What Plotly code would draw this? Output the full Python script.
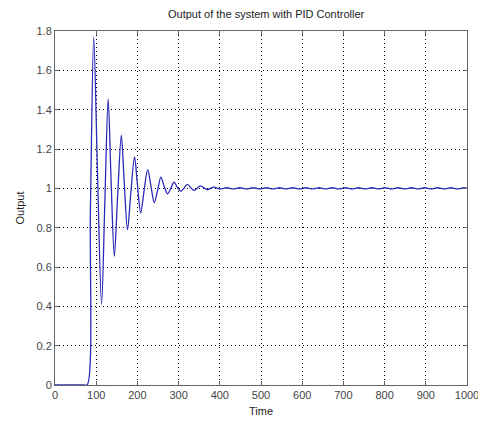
import plotly.graph_objects as go

# time samples (extrema + a few midpoints)
time = [0, 70, 78, 86, 94, 103, 113, 121, 129, 136, 144, 152, 161, 168, 176,
        184, 193, 200, 208, 216, 225, 233, 241, 249, 257, 265, 273, 281, 289,
        297, 305, 313, 321, 337, 353, 369, 385,
        401, 417, 433, 449, 465, 481, 497, 513, 529, 545, 561, 577, 593, 609,
        625, 641, 657, 673, 689, 705, 721, 737, 753, 769, 785, 801, 817, 833,
        849, 865, 881, 897, 913, 929, 945, 961, 977, 993, 1000]
output = [0, 0, 0, 0.9, 1.77, 1.09, 0.41, 0.93, 1.455, 1.05, 0.655, 0.96, 1.27,
          1.03, 0.79, 0.975, 1.16, 1.02, 0.875, 0.985, 1.095, 1.01, 0.928,
          0.99, 1.057, 1.01, 0.972, 1.0, 1.032, 1.005, 0.986, 1.0, 1.02, 0.99,
          1.012, 0.994, 1.006,
          0.997, 1.003, 0.997, 1.003, 0.997, 1.003, 0.997, 1.003, 0.997, 1.003,
          0.997, 1.003, 0.997, 1.003, 0.997, 1.003, 0.997, 1.003, 0.997, 1.003,
          0.997, 1.003, 0.997, 1.003, 0.997, 1.003, 0.997, 1.003, 0.997, 1.003,
          0.997, 1.003, 0.997, 1.003, 0.997, 1.003, 0.997, 1.003, 1.0]

font = "Liberation Sans, Arial, sans-serif"

fig = go.Figure()
fig.add_trace(go.Scatter(x=time, y=output, mode="lines",
                         line=dict(color="#2a2ab8", width=1.3, shape="spline", smoothing=0.9),
                         showlegend=False))

axis_style = dict(showline=True, linecolor="#666666", linewidth=1, mirror="allticks",
                  ticks="inside", ticklen=4, tickcolor="#666666", automargin=False,
                  layer="above traces",
                  showgrid=True, gridcolor="#000000", gridwidth=1, griddash="1px,3px",
                  zeroline=False, tickfont=dict(family=font, size=11, color="#444444"))

fig.update_xaxes(range=[0, 1000], dtick=100, title=dict(text="Time", standoff=7,
                 font=dict(family=font, size=11, color="#222222")), **axis_style)
fig.update_yaxes(range=[0, 1.8], dtick=0.2, title=dict(text="Output", standoff=9,
                 font=dict(family=font, size=11, color="#222222")), **axis_style)

# page body adds an 8px offset, so the figure is a bit smaller
fig.update_layout(
    width=478, height=416,
    margin=dict(l=47, r=19, t=23, b=39),
    paper_bgcolor="white", plot_bgcolor="white",
    title=dict(text="Output of the system with PID Controller", x=0.54, xanchor="center",
               y=0.985, yanchor="middle", font=dict(family=font, size=11, color="#222222")),
)

fig.write_html("out.html")
